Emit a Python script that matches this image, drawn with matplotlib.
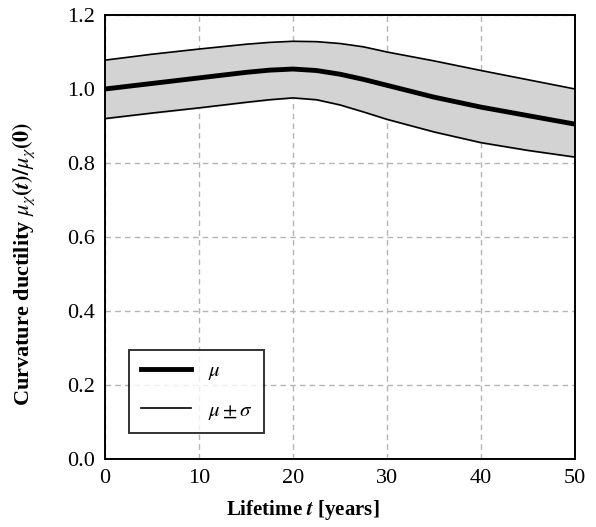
import matplotlib
matplotlib.use("Agg")
import matplotlib.pyplot as plt

# lifetime (years) and curvature ductility ratio
years = [0, 5, 10, 15, 17.5, 20, 22.5, 25, 27.5, 30, 35, 40, 45, 50]
mean = [1.0, 1.015, 1.03, 1.045, 1.051, 1.054, 1.05, 1.04, 1.026, 1.01,
        0.978, 0.951, 0.928, 0.905]
upper = [1.078, 1.094, 1.108, 1.121, 1.126, 1.129, 1.128, 1.123, 1.114, 1.1,
         1.076, 1.05, 1.025, 1.0]
lower = [0.92, 0.935, 0.949, 0.964, 0.971, 0.976, 0.971, 0.957, 0.938, 0.918,
         0.884, 0.855, 0.834, 0.816]

xticks = [0, 10, 20, 30, 40, 50]
yticks = [0.0, 0.2, 0.4, 0.6, 0.8, 1.0, 1.2]

plt.rcParams['font.family'] = 'Liberation Serif'
plt.rcParams['mathtext.fontset'] = 'stix'

fig = plt.figure(figsize=(5.96, 5.27), dpi=100)
ax = fig.add_axes([0.176, 0.129, 0.789, 0.8425])

ax.fill_between(years, lower, upper, color='#d3d3d3', zorder=1)
ax.plot(years, mean, color='black', lw=3.5, label=r'$\mu$', zorder=3)
ax.plot(years, upper, color='black', lw=1.2, label=r'$\mu \pm \sigma$', zorder=3)
ax.plot(years, lower, color='black', lw=1.2, zorder=3)

ax.set_xlim(0, 50)
ax.set_ylim(0, 1.2)
ax.set_xticks(xticks)
ax.set_yticks(yticks)
ax.set_yticklabels(['%.1f' % v for v in yticks])
ax.tick_params(length=0, labelsize=16, pad=7)
ax.grid(True, ls=(0, (4, 3)), color='#b4b4b4', lw=1.0, zorder=0)
ax.set_axisbelow(True)
for s in ax.spines.values():
    s.set_linewidth(1.4)

ax.set_xlabel(r'Lifetime $\boldsymbol{t}$ [years]', fontsize=15, fontweight='bold')
ax.set_ylabel(r'Curvature ductility $\boldsymbol{\mu_\chi(t)/\mu_\chi(0)}$',
              fontsize=16, fontweight='bold')
ax.xaxis.set_label_coords(0.42, -0.088)
ax.yaxis.set_label_coords(-0.145, 0.44)

leg = ax.legend(loc='lower left', bbox_to_anchor=(0.03, 0.035), fontsize=15,
                frameon=True, fancybox=False, edgecolor='black',
                handlelength=2.4, borderpad=0.55, labelspacing=0.9)
leg.get_frame().set_linewidth(1.4)

fig.savefig('out.png', dpi=100)
